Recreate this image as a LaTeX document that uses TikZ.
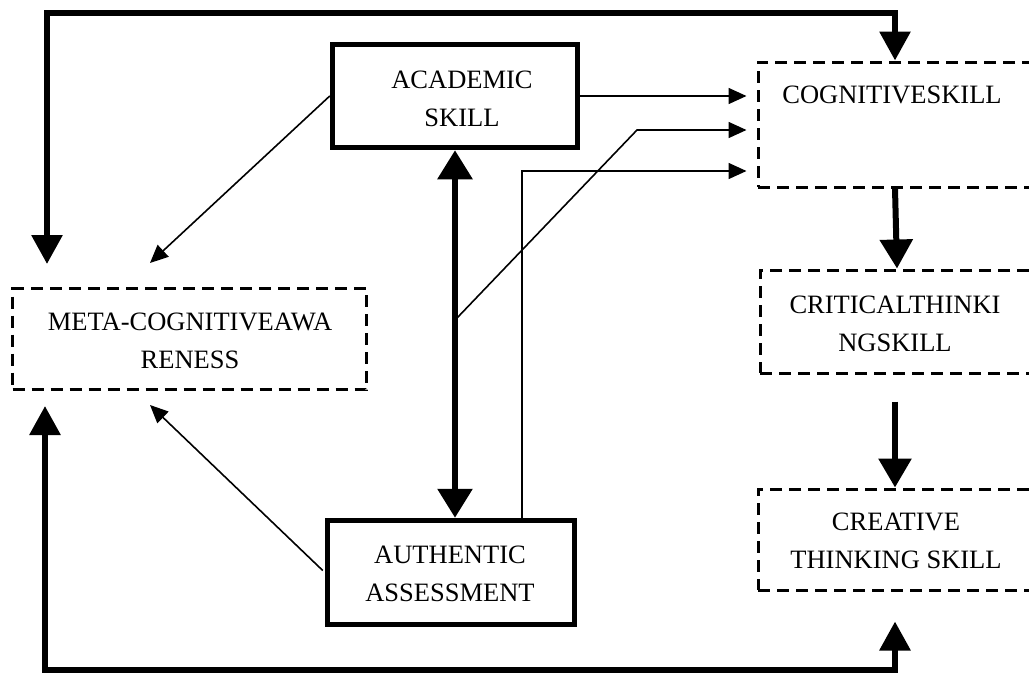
\documentclass[tikz,border=0pt]{standalone}
\usepackage{fontspec}
\setmainfont{Liberation Serif}
\usetikzlibrary{arrows.meta,calc}
\begin{document}
\begin{tikzpicture}[x=1pt,y=-1pt,
  txt/.style={font=\fontsize{26.5}{38.5}\selectfont, align=center, inner sep=0pt},
  solidbox/.style={draw, line width=5.5pt, inner sep=0pt},
  dashbox/.style={draw, line width=3pt, dash pattern=on 12pt off 7pt, inner sep=0pt},
  bigarrow/.style={line width=6pt, -{Triangle[length=29pt,width=32pt]}},
  bigdouble/.style={line width=6pt, {Triangle[length=29pt,width=34pt]}-{Triangle[length=29pt,width=34pt]}},
  bigloop/.style={line width=6pt, {Triangle[length=29pt,width=30pt]}-{Triangle[length=29pt,width=30pt]}},
  thinarrow/.style={line width=1.6pt, -{Triangle[length=18pt,width=16pt]}}
]
\useasboundingbox (0,0) rectangle (1029,675);
\clip (0,0) rectangle (1029,675);
\fill[white] (0,0) rectangle (1029,675);

% boxes
\node[solidbox, minimum width=245pt, minimum height=103pt] (aca) at (455,96) {};
\node[txt] (acat) at (462,99) {ACADEMIC\\SKILL};
\node[solidbox, minimum width=247pt, minimum height=104pt] (auth) at (451,572.5) {};
\node[txt] (autht) at (450,574) {AUTHENTIC\\ASSESSMENT};
\node[dashbox, minimum width=354pt, minimum height=101pt] (meta) at (189.5,339) {};
\node[txt] (metat) at (190,341) {META-COGNITIVEAWA\\RENESS};
\node[dashbox, minimum width=275pt, minimum height=125pt] (cog) at (895.5,124.5) {};
\node[txt] (cogt) at (892,95) {COGNITIVESKILL};
\node[dashbox, minimum width=273pt, minimum height=103pt] (crit) at (896.5,321.5) {};
\node[txt] (critt) at (895,324) {CRITICALTHINKI\\NGSKILL};
\node[dashbox, minimum width=275pt, minimum height=101pt] (crea) at (895.5,539.5) {};
\node[txt] (creat) at (896,541) {CREATIVE\\THINKING SKILL};

% loop coordinates
\coordinate (tl) at (47,13);
\coordinate (tr) at (895,13);
\coordinate (bl) at (45,670);
\coordinate (br) at (895,670);

% top loop
\draw[bigloop, shorten <=23pt] (meta.north -| tl) -- (tl) -- (tr) -- (cog.north -| tr);
% bottom loop
\draw[bigloop, shorten <=15pt, shorten >=30pt] (meta.south -| bl) -- (bl) -- (br) -- (crea.south -| br);

% vertical chain on right
\draw[bigarrow] (cog.south -| tr) -- (crit.north -| 897,0);
\draw[bigarrow, shorten <=27pt] (crit.south -| tr) -- (crea.north -| tr);

% double arrow
\draw[bigdouble] (aca.south) -- (aca.south |- auth.north);

% thin arrows
\draw[thinarrow, shorten >=10pt] (aca.east) -- (aca.east -| cog.west);
\coordinate (branch) at (457,318);
\coordinate (bend) at (637,130);
\draw[thinarrow, shorten >=10pt] (branch) -- (bend) -- (bend -| cog.west);
\coordinate (up) at (522,171);
\draw[thinarrow, shorten >=10pt] (auth.north -| up) -- (up) -- (up -| cog.west);
\coordinate (m1) at (150,263);
\draw[thinarrow] (aca.west) -- (m1);
\coordinate (m2) at (150,405);
\draw[thinarrow] (auth.west) ++(-2,-2) -- (m2);
\end{tikzpicture}
\end{document}
